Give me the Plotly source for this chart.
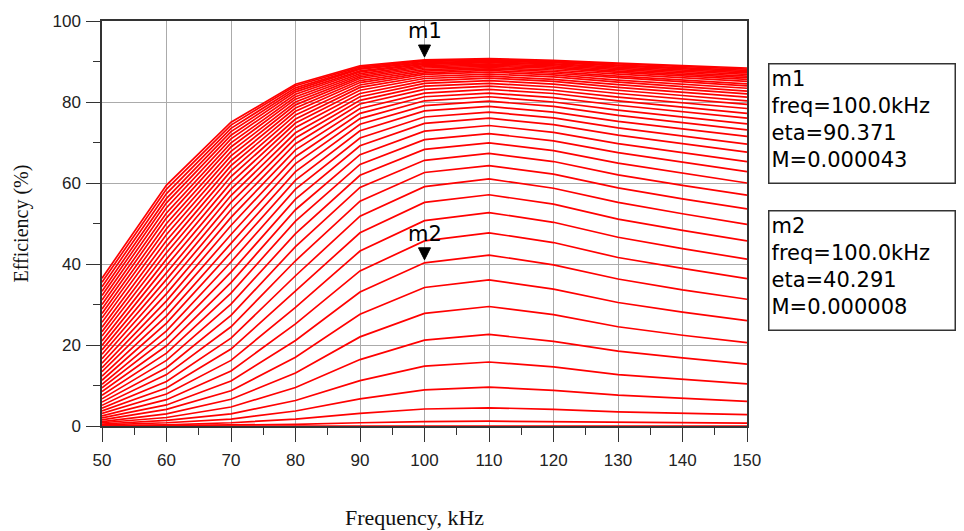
import plotly.graph_objects as go

# Frequency sweep (kHz)
freq_khz = [50, 60, 70, 80, 90, 100, 110, 120, 130, 140, 150]

# Mutual inductance of each curve (uH), 0 ... 43 uH in 1 uH steps
M_uH = list(range(0, 44))

# Efficiency (%) of every curve at each frequency (index = curve / M value)
eta_50 = [0.0, 0.0, 0.1, 0.3, 0.5, 0.8, 1.1, 1.5, 2.0, 2.5, 3.1, 3.7, 4.4, 5.1, 5.9, 6.7, 7.6, 8.5, 9.4, 10.3, 11.3, 12.3, 13.4, 14.4, 15.5, 16.6, 17.7, 18.8, 19.9, 21.0, 22.2, 23.3, 24.4, 25.6, 26.7, 27.8, 28.9, 30.0, 31.1, 32.2, 33.3, 34.4, 35.5, 36.5]
eta_60 = [0.0, 0.1, 0.3, 0.8, 1.4, 2.1, 3.0, 4.1, 5.2, 6.5, 7.9, 9.4, 11.0, 12.7, 14.4, 16.2, 18.0, 19.8, 21.7, 23.5, 25.4, 27.2, 29.1, 30.9, 32.7, 34.5, 36.2, 37.9, 39.6, 41.2, 42.8, 44.3, 45.8, 47.3, 48.7, 50.0, 51.4, 52.6, 53.9, 55.1, 56.2, 57.4, 58.5, 59.5]
eta_70 = [0.0, 0.2, 0.8, 1.7, 3.0, 4.7, 6.6, 8.7, 11.1, 13.6, 16.2, 19.0, 21.7, 24.5, 27.3, 30.1, 32.8, 35.4, 38.0, 40.5, 42.9, 45.1, 47.3, 49.5, 51.5, 53.4, 55.2, 56.9, 58.5, 60.1, 61.6, 63.0, 64.3, 65.5, 66.7, 67.8, 68.9, 69.9, 70.9, 71.8, 72.7, 73.5, 74.3, 75.0]
eta_80 = [0.0, 0.4, 1.7, 3.7, 6.3, 9.5, 13.1, 17.0, 21.1, 25.2, 29.3, 33.3, 37.1, 40.8, 44.3, 47.5, 50.6, 53.4, 56.0, 58.5, 60.7, 62.8, 64.8, 66.5, 68.2, 69.7, 71.1, 72.4, 73.7, 74.8, 75.8, 76.8, 77.7, 78.5, 79.3, 80.0, 80.7, 81.3, 81.9, 82.5, 83.0, 83.5, 84.0, 84.4]
eta_90 = [0.0, 0.8, 3.1, 6.7, 11.2, 16.4, 22.0, 27.6, 33.1, 38.3, 43.2, 47.7, 51.8, 55.5, 58.9, 61.9, 64.6, 67.0, 69.2, 71.1, 72.9, 74.5, 75.9, 77.2, 78.4, 79.5, 80.4, 81.3, 82.1, 82.9, 83.6, 84.2, 84.8, 85.3, 85.8, 86.2, 86.6, 87.0, 87.4, 87.7, 88.1, 88.3, 88.6, 88.9]
eta_100 = [0.0, 1.1, 4.2, 8.9, 14.8, 21.2, 27.8, 34.2, 40.3, 45.7, 50.7, 55.2, 59.1, 62.6, 65.6, 68.3, 70.7, 72.8, 74.7, 76.3, 77.8, 79.1, 80.3, 81.3, 82.2, 83.1, 83.9, 84.6, 85.2, 85.8, 86.3, 86.8, 87.2, 87.6, 88.0, 88.4, 88.7, 89.0, 89.3, 89.5, 89.7, 90.0, 90.2, 90.4]
eta_110 = [0.0, 1.2, 4.5, 9.6, 15.8, 22.6, 29.5, 36.1, 42.2, 47.7, 52.7, 57.1, 61.0, 64.3, 67.3, 69.9, 72.2, 74.2, 76.0, 77.5, 78.9, 80.2, 81.3, 82.2, 83.1, 83.9, 84.6, 85.3, 85.9, 86.4, 86.9, 87.4, 87.8, 88.2, 88.5, 88.8, 89.1, 89.4, 89.7, 89.9, 90.1, 90.3, 90.5, 90.7]
eta_120 = [0.0, 1.1, 4.1, 8.8, 14.6, 20.9, 27.5, 33.8, 39.8, 45.3, 50.3, 54.8, 58.7, 62.2, 65.3, 68.0, 70.4, 72.5, 74.4, 76.1, 77.5, 78.9, 80.0, 81.1, 82.1, 82.9, 83.7, 84.4, 85.1, 85.6, 86.2, 86.7, 87.1, 87.5, 87.9, 88.3, 88.6, 88.9, 89.2, 89.4, 89.7, 89.9, 90.1, 90.3]
eta_130 = [0.0, 0.9, 3.5, 7.6, 12.7, 18.5, 24.5, 30.5, 36.3, 41.6, 46.6, 51.1, 55.2, 58.8, 62.0, 64.9, 67.5, 69.7, 71.8, 73.6, 75.2, 76.7, 78.0, 79.2, 80.3, 81.2, 82.1, 82.9, 83.6, 84.3, 84.9, 85.4, 86.0, 86.4, 86.9, 87.3, 87.6, 88.0, 88.3, 88.6, 88.9, 89.1, 89.4, 89.6]
eta_140 = [0.0, 0.8, 3.2, 6.8, 11.5, 16.8, 22.4, 28.1, 33.6, 38.9, 43.8, 48.3, 52.4, 56.1, 59.4, 62.4, 65.1, 67.5, 69.7, 71.6, 73.3, 74.9, 76.3, 77.6, 78.7, 79.8, 80.7, 81.6, 82.4, 83.1, 83.8, 84.4, 85.0, 85.5, 86.0, 86.4, 86.8, 87.2, 87.6, 87.9, 88.2, 88.5, 88.8, 89.0]
eta_150 = [0.0, 0.7, 2.8, 6.1, 10.4, 15.3, 20.6, 26.0, 31.3, 36.4, 41.2, 45.7, 49.8, 53.6, 57.0, 60.0, 62.8, 65.3, 67.6, 69.6, 71.5, 73.1, 74.6, 76.0, 77.2, 78.4, 79.4, 80.3, 81.2, 82.0, 82.7, 83.4, 84.0, 84.5, 85.1, 85.6, 86.0, 86.4, 86.8, 87.2, 87.5, 87.8, 88.1, 88.4]

# Marker readouts
m1_freq, m1_eta, m1_M = 100.0, 90.371, "0.000043"
m2_freq, m2_eta, m2_M = 100.0, 40.291, "0.000008"

x_ticks = [50, 60, 70, 80, 90, 100, 110, 120, 130, 140, 150]
y_ticks = [0, 20, 40, 60, 80, 100]

columns = [eta_50, eta_60, eta_70, eta_80, eta_90, eta_100,
           eta_110, eta_120, eta_130, eta_140, eta_150]

fig = go.Figure()
for k, m in enumerate(M_uH):
    fig.add_trace(go.Scatter(
        x=freq_khz,
        y=[col[k] for col in columns],
        mode="lines",
        line=dict(color="#ff0000", width=1.7),
        name=f"M={m} uH",
        showlegend=False,
    ))

tick_font = dict(family="Liberation Sans, Arial, sans-serif", size=17, color="#222222")
axis_common = dict(
    showgrid=True, gridcolor="#ababab", gridwidth=1,
    showline=True, mirror=True, linecolor="#333333", linewidth=1.5,
    ticks="outside", ticklen=14, tickwidth=1.2, tickcolor="#333333",
    zeroline=False, tickfont=tick_font,
)

fig.update_xaxes(
    range=[50, 150], tickvals=x_ticks, ticktext=[str(v) for v in x_ticks],
    minor=dict(dtick=5, tick0=50, ticks="outside", ticklen=7, tickcolor="#333333", showgrid=False),
    ticklabelstandoff=4,
    **axis_common,
)
fig.update_yaxes(
    range=[0, 100], tickvals=y_ticks, ticktext=[str(v) for v in y_ticks],
    minor=dict(dtick=10, tick0=0, ticks="outside", ticklen=7, tickcolor="#333333", showgrid=False),
    ticklabelstandoff=2,
    **axis_common,
)

annotations = []
# axis titles
annotations.append(dict(text="Efficiency (%)", xref="paper", yref="paper", x=0, y=0.5,
                        xanchor="center", yanchor="middle",
                        xshift=-81, textangle=-90, showarrow=False,
                        font=dict(family="Liberation Serif, Times New Roman, serif", size=20, color="#111111")))
annotations.append(dict(text="Frequency, kHz", xref="paper", yref="paper", x=0.5, y=0,
                        xanchor="center", yanchor="middle",
                        yshift=-91, xshift=-10, showarrow=False,
                        font=dict(family="Liberation Serif, Times New Roman, serif", size=22, color="#111111")))

label_font = dict(family="DejaVu Sans, sans-serif", size=21, color="#000000")
# marker labels
for name, fx, ey in [("m1", m1_freq, m1_eta), ("m2", m2_freq, m2_eta)]:
    annotations.append(dict(text=name, x=fx, y=ey, xref="x", yref="y", showarrow=False,
                            xanchor="center", yanchor="middle", yshift=29, font=label_font))

# readout boxes
for name, fx, ey, mv, ytop in [("m1", m1_freq, m1_eta, m1_M, 0.897), ("m2", m2_freq, m2_eta, m2_M, 0.534)]:
    txt = f"{name}<br>freq={fx:.1f}kHz<br>eta={ey:.3f}<br>M={mv}"
    annotations.append(dict(text=txt, xref="paper", yref="paper", x=1.0326, y=ytop,
                            xanchor="left", yanchor="top", align="left", valign="top",
                            width=181, height=114, showarrow=False,
                            bordercolor="#333333", borderwidth=1.5, borderpad=2,
                            font=label_font))

shapes = []
for fx, ey in [(m1_freq, m1_eta), (m2_freq, m2_eta)]:
    shapes.append(dict(type="path", xref="x", yref="y", xsizemode="pixel", ysizemode="pixel",
                       xanchor=fx, yanchor=ey, path="M -6,15 L 6,15 L 0,3 Z",
                       fillcolor="#000000", line=dict(color="#000000", width=1)))

fig.update_layout(
    width=964, height=531,
    margin=dict(l=102, r=217, t=18, b=105),
    paper_bgcolor="white", plot_bgcolor="white",
    showlegend=False,
    annotations=annotations,
    shapes=shapes,
)

fig.write_html(
    "out.html",
    config={"displayModeBar": False},
    post_script="document.body.style.margin='0';document.body.style.padding='0';document.body.style.overflow='hidden';",
)
